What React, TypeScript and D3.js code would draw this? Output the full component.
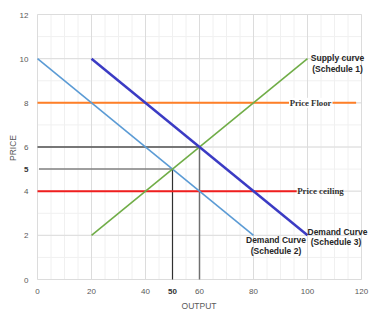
import React from "react";
import * as d3 from "d3";

const xTicks = [0, 20, 40, 60, 80, 100, 120];
const yTicks = [0, 2, 4, 6, 8, 10, 12];
const xMinor = d3.range(0, 121, 5);
const yMinor = d3.range(0, 13, 1);

const supplyX = [20, 100];
const supplyY = [2, 10];
const demand2X = [0, 80];
const demand2Y = [10, 2];
const demand3X = [20, 100];
const demand3Y = [10, 2];
const priceFloor = 8;
const priceFloorEnd = 118;
const priceCeiling = 4;
const priceCeilingEnd = 96;
const eq1 = { q: 50, p: 5 };
const eq2 = { q: 60, p: 6 };

const W = 374;
const H = 315;

export default function App() {
  const x = d3.scaleLinear().domain([0, 120]).range([37.5, 361.5]);
  const y = d3.scaleLinear().domain([0, 12]).range([279.5, 14.5]);
  const line = d3
    .line<[number, number]>()
    .x((d) => x(d[0]))
    .y((d) => y(d[1]));
  const pts = (xs: number[], ys: number[]) =>
    xs.map((v, i) => [v, ys[i]] as [number, number]);

  const tickFont = "Liberation Sans, Arial, sans-serif";
  const s1 = pts(supplyX, supplyY);
  const d2 = pts(demand2X, demand2Y);
  const d3p = pts(demand3X, demand3Y);

  return (
    <svg
      width={W}
      height={H}
      style={{ position: "absolute", left: 0, top: 0, background: "#fff" }}
    >
      {/* minor grid */}
      {xMinor.map((v) => (
        <line key={"xm" + v} x1={x(v)} x2={x(v)} y1={y(0)} y2={y(12)} stroke="#F0F0F0" strokeWidth={1} />
      ))}
      {yMinor.map((v) => (
        <line key={"ym" + v} x1={x(0)} x2={x(120)} y1={y(v)} y2={y(v)} stroke="#F0F0F0" strokeWidth={1} />
      ))}
      {/* major grid */}
      {xTicks.map((v) => (
        <line key={"xM" + v} x1={x(v)} x2={x(v)} y1={y(0)} y2={y(12)} stroke="#DCDCDC" strokeWidth={1} />
      ))}
      {yTicks.map((v) => (
        <line key={"yM" + v} x1={x(0)} x2={x(120)} y1={y(v)} y2={y(v)} stroke="#DCDCDC" strokeWidth={1} />
      ))}
      {/* tick labels */}
      {yTicks.map((v) => (
        <text key={"yl" + v} x={28.5} y={y(v) + 3} textAnchor="end" fontSize={8} fill="#595959" fontFamily={tickFont}>
          {v}
        </text>
      ))}
      {xTicks.map((v) => (
        <text key={"xl" + v} x={x(v)} y={293.5} textAnchor="middle" fontSize={8} fill="#595959" fontFamily={tickFont}>
          {v}
        </text>
      ))}
      <text x={28.5} y={y(eq1.p) + 3} textAnchor="end" fontSize={8} fontWeight="bold" fill="#333" fontFamily={tickFont}>
        {eq1.p}
      </text>
      <text x={x(eq1.q)} y={293.5} textAnchor="middle" fontSize={8} fontWeight="bold" fill="#333" fontFamily={tickFont}>
        {eq1.q}
      </text>
      <text x={199} y={309} textAnchor="middle" fontSize={8.5} fill="#595959" fontFamily={tickFont}>
        OUTPUT
      </text>
      <text
        transform={`translate(15.5,148) rotate(-90)`}
        textAnchor="middle"
        fontSize={8.5}
        fill="#595959"
        fontFamily={tickFont}
      >
        PRICE
      </text>

      {/* equilibrium guide lines */}
      <line x1={x(0)} x2={x(eq2.q)} y1={y(eq2.p)} y2={y(eq2.p)} stroke="#505050" strokeWidth={1.3} />
      <line x1={x(0) + 1.5} x2={x(eq1.q)} y1={y(eq1.p)} y2={y(eq1.p)} stroke="#808080" strokeWidth={1.5} />
      <line x1={x(eq1.q)} x2={x(eq1.q)} y1={y(0)} y2={y(eq1.p)} stroke="#303030" strokeWidth={1.2} />
      <line x1={x(eq2.q)} x2={x(eq2.q)} y1={y(0)} y2={y(eq2.p)} stroke="#707070" strokeWidth={1.5} />

      {/* price ceiling and floor */}
      <line x1={x(0)} x2={x(priceCeilingEnd)} y1={y(priceCeiling)} y2={y(priceCeiling)} stroke="#F01E1E" strokeWidth={2} />
      <line x1={x(0)} x2={x(priceFloorEnd)} y1={y(priceFloor)} y2={y(priceFloor)} stroke="#FF7F27" strokeWidth={2} />

      {/* curves */}
      <path d={line(d2) || ""} fill="none" stroke="#5B9BD5" strokeWidth={1.6} />
      <path d={line(s1) || ""} fill="none" stroke="#70AD47" strokeWidth={1.6} />
      <path d={line(d3p) || ""} fill="none" stroke="#3B3BC4" strokeWidth={2.5} />

      {/* labels */}
      <rect x={289} y={y(priceFloor) - 5} width={43.5} height={10} fill="#fff" />
      <text x={310.5} y={y(priceFloor) + 3} textAnchor="middle" fontSize={8.7} fontWeight="bold" fill="#333" fontFamily="Liberation Serif, Times New Roman, serif">
        Price Floor
      </text>
      <text x={x(priceCeilingEnd) + 0.5} y={y(priceCeiling) + 3} fontSize={8.9} fontWeight="bold" fill="#333" fontFamily="Liberation Serif, Times New Roman, serif">
        Price ceiling
      </text>

      <g fontFamily={tickFont} fontSize={8.5} fontWeight="bold" fill="#262626" textAnchor="middle">
        <text x={x(supplyX[1]) + 30} y={61}>Supply curve</text>
        <text x={x(supplyX[1]) + 30} y={71.5}>(Schedule 1)</text>
        <text x={x(demand3X[1]) + 30} y={235.3}>Demand Curve</text>
        <text x={x(demand3X[1]) + 28.5} y={245}>(Schedule 3)</text>
        <text x={276} y={243.3}>Demand Curve</text>
        <text x={276} y={253.5}>(Schedule 2)</text>
      </g>
    </svg>
  );
}
